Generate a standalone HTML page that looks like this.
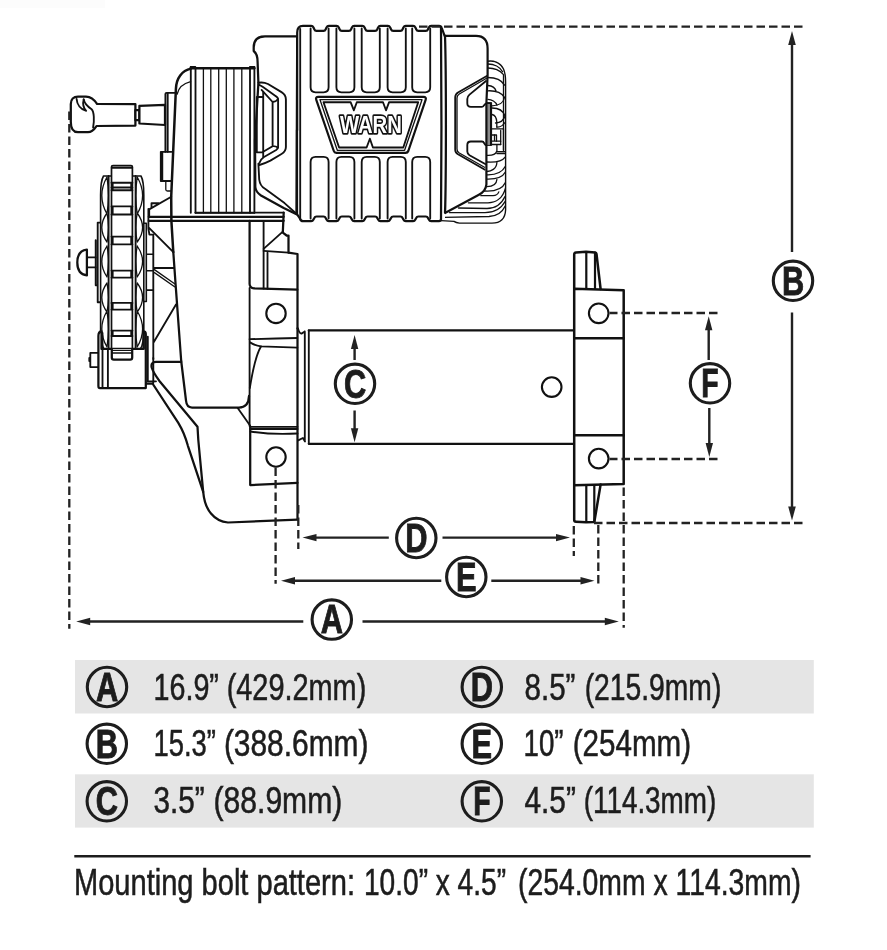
<!DOCTYPE html>
<html>
<head>
<meta charset="utf-8">
<title>Winch dimensions</title>
<style>
html,body{margin:0;padding:0;background:#fff;}
body{width:887px;height:950px;overflow:hidden;font-family:"Liberation Sans",sans-serif;}
svg{display:block;filter:grayscale(1);}
.t{font-family:"Liberation Sans",sans-serif;font-size:36px;fill:#1d1d1f;stroke:#1d1d1f;stroke-width:0.55;}
.b{font-family:"Liberation Sans",sans-serif;font-weight:bold;font-size:40px;fill:#1d1d1f;stroke:#1d1d1f;stroke-width:0.9;text-anchor:middle;}
.o{fill:none;stroke:#111;stroke-width:2.25;stroke-linejoin:round;stroke-linecap:round;}
.m{fill:none;stroke:#111;stroke-width:1.85;stroke-linejoin:round;stroke-linecap:round;}
.n{fill:none;stroke:#111;stroke-width:1.3;stroke-linejoin:round;stroke-linecap:round;}
.w{fill:#fff;stroke:#111;stroke-width:2.25;stroke-linejoin:round;stroke-linecap:round;}
.d{fill:none;stroke:#222;stroke-width:2.3;stroke-dasharray:8.5 4;}
.a{fill:none;stroke:#222;stroke-width:2.4;}
.h{fill:#222;stroke:none;}
.c{fill:none;stroke:#1d1d1f;stroke-width:3.1;}
#rsupport .o{stroke-width:2.5;}#rsupport .m{stroke-width:2.2;}
</style>
</head>
<body>
<svg width="887" height="950" viewBox="0 0 887 950">
<rect x="0" y="0" width="887" height="950" fill="#ffffff"/>
<rect x="0" y="0" width="105" height="8" fill="#fcfcfc"/>

<!-- ===== TABLE ===== -->
<g id="table">
<rect x="75" y="660" width="738.8" height="53.5" fill="#e4e5e6"/>
<rect x="75" y="774.3" width="738.8" height="53.3" fill="#e4e5e6"/>
<rect x="74.3" y="855" width="736.3" height="2.5" fill="#1d1d1f"/>
</g>

<!-- ===== DRAWING ===== -->
<g id="drawing">
<g id="handle">
<!-- knob + shaft -->
<path class="w" d="M97 103.8 C94.5 100 91 96.8 86 96.6 H78 C73.5 96.6 70.8 99.5 70.8 104 V122 C70.8 128 73 132.2 78 132.2 H88 C93 132.2 94.5 129 96.5 126 L135.4 125.6 V104.2 Z"/>
<path class="m" d="M76.6 98.9 C77 104.5 80.5 109.5 86.2 110.8 C83.5 108 82.6 103.5 83.7 99.5"/>
<path class="m" d="M83.7 99.5 C84.5 103.5 87.5 106.5 91.6 109.2 C94.2 111.5 94.4 121 93.1 127.5"/>
<path class="w" d="M135.4 110H139.4V120.2H135.4Z"/>
<path class="w" d="M139.4 105.8 L165 104.8 V125 L139.4 123.5Z"/>
</g>

<g id="gearhousing">
<!-- left plate the handle shaft enters -->
<path class="m" d="M175.5 92.8H166.6Q165.4 92.8 165.4 94V151.8M167.7 93.5V151.8"/>
<!-- small box + stub -->
<path class="m" d="M171.5 151.8H160.8V181H171.5M162.3 152.5V180.5"/>
<path class="n" d="M165.8 181V189.5Q165.8 191 167.5 191H170.6"/>
<!-- body left edge with shoulder -->
<path class="o" style="stroke-width:2.5" d="M191 68.6 C182 70.5 176.2 78 175.9 89 L171.2 196.8 L171.4 221 L173.3 252"/>
<path class="n" d="M190.6 81.6 C183 83.5 178.5 88 177.2 94"/>
<!-- ribbed block -->
<path class="o" style="stroke-width:2.6" d="M190.8 68.3H254.2"/><path class="o" style="stroke-width:1.6" d="M190.6 68V66.8H195.4V68M249.8 68V66.8H254.4V68"/>
<path class="m" d="M190.8 67V212.8M195.5 68V212.8M250 68V212.8M254.4 67V212.8"/>
<path class="n" d="M203.4 68V212.8M210.8 68V212.8M218.7 68V212.8M226.3 68V212.8M233.9 68V212.8M241.8 68V212.8"/>
<path class="m" d="M195.5 212.8H254.4"/>
<!-- bracket below handle -->
<path class="m" d="M171.3 196.8 L149.2 209.4 V215.7M151.5 208V203.2H158.6"/>
</g>

<g id="motor">
<!-- fan / brush cover behind end cap -->
<path class="m" style="stroke-width:1.4" d="M487.6 61.2 C493 60.4 500 62 503.5 69 C505 72.5 505.6 77 505.6 82 V210 Q505 223.1 492 223.1 H459.5 Q456 222.8 454 221.4 L441 220.6"/>
<path class="n" d="M487.9 64 C494 64 500 67 502.6 71.8 M487.9 68 C494 68 500 70.5 503.5 74.6 V150"/>
<path class="n" d="M487.9 77.5 C494 77.5 501 79 504.5 85.1"/>
<path class="n" d="M487.9 85.5 C491 85.8 495 87.5 496 90.8 M487.9 90.8 C494 90.5 501 92 504.5 97.4 C503.5 103 500 105.3 492 105.8"/>
<path class="n" d="M487.9 99.3 C491.5 99.5 496 101.5 496.9 105.2"/>
<path class="n" d="M492 108 C497 108 503 110 505 116 C503.5 121 499 122.8 495.5 123"/>
<path class="n" d="M492 114.5 C494.5 115 496.5 117.5 496.8 122 V127"/>
<path class="n" d="M496.8 127 C500 127.3 503 125.5 505 122.5 M492 128.8 H503.5 M492 135 H496.5 V141.2 M500.7 130.5 V144.5 M503.5 128.8 V151.6"/>
<path class="n" d="M491.7 141.2 H500.7 M491.7 144.5 H500.7 M494.5 135 V141 M496.9 144.5 V151.6 H505.4 M496.9 153.5 H505.4"/>
<path class="n" d="M486.9 155.4 C491 155.6 495.5 155 496.6 151.5"/>
<path class="n" d="M486.9 162 C494 162.5 502 161.5 505.4 156.8"/>
<path class="n" d="M486.9 171.5 C491 171.3 496.5 169 496.9 162.5"/>
<path class="n" d="M487 174.8 C494 175 502 173 505.4 166.3"/>
<path class="n" d="M487 179.1 C495 179.3 502.5 177.5 505.4 172"/>
<path class="n" d="M487 186.7 C491 186.6 496.5 185 496.9 179.5"/>
<path class="n" d="M484.5 191 C493 191.5 502 190 505.4 182.5"/>
<path class="n" d="M480.8 195.7 H493 Q497.5 195.5 498.8 191.9"/>
<path class="n" d="M468.4 202.8 H488 C495 202.8 502.5 199 505.4 188.5"/>
<path class="n" d="M458.5 208 L487 208.5 C494 208.5 501 205 505 196.5"/>
<path class="n" d="M449.5 212.7 H485 C493 212.7 501 209 505.4 201"/>
<path class="n" d="M443.8 217.4 L489 216.5 C496 216.2 502 213 505.2 206"/>
<!-- right end cap -->
<path class="w" style="stroke-width:2.2" d="M444.6 35.8 H476 Q487.6 35.8 487.6 48.5 V75 L486.4 103 V184.3 Q485.8 191 478.9 194.7 L445 213 Z"/>
<!-- left end cap -->
<path class="w" d="M297.2 36.3 H265 Q253.7 36.3 253.7 47.5 V51 Q257.6 54 257.6 62 L258.4 83 L255 140 L255.3 187 Q255.8 192 261 195.5 L283.7 208 L296.5 214.2 Z"/>
<path class="m" d="M258.4 163.7 L259.2 179.5 Q260 186 265 188.8 L284.5 203.1 L297 214.2"/>
<!-- ribbed body -->
<path d="M297 30H445V218H297Z" style="fill:#fff;stroke:none"/>
<path class="o" style="stroke-width:2.2" d="M297.2 130 V32.5 Q297.2 25.9 303 25.9 H311.2 Q312.7 25.9 313.5 27.5 L314.3 29.3 Q314.9 30.8 316.5 30.8 H323.5 Q325.1 30.8 325.7 29.3 L326.5 27.5 Q327.3 25.9 328.8 25.9 H336.5 Q338.0 25.9 338.8 27.5 L339.6 29.3 Q340.2 30.8 341.8 30.8 H348.9 Q350.5 30.8 351.1 29.3 L351.9 27.5 Q352.7 25.9 354.2 25.9 H362.3 Q363.8 25.9 364.6 27.5 L365.4 29.3 Q366.0 30.8 367.6 30.8 H375.1 Q376.7 30.8 377.3 29.3 L378.1 27.5 Q378.9 25.9 380.4 25.9 H387.9 Q389.4 25.9 390.2 27.5 L391.0 29.3 Q391.6 30.8 393.2 30.8 H400.4 Q402.0 30.8 402.6 29.3 L403.4 27.5 Q404.2 25.9 405.7 25.9 H413.1 Q414.6 25.9 415.4 27.5 L416.2 29.3 Q416.8 30.8 418.4 30.8 H425.8 Q427.4 30.8 428.0 29.3 L428.8 27.5 Q429.6 25.9 431.1 25.9 H439.0 Q441.2 25.9 441.8 28 L444.6 35.8"/>
<path class="o" style="stroke-width:2.2" d="M297 214.2 L300.2 219 Q301 221.2 303 221.2 H311.2 Q312.7 221.2 313.5 219.6 L314.3 218.0 Q314.9 216.5 316.5 216.5 H323.5 Q325.1 216.5 325.7 218.0 L326.5 219.6 Q327.3 221.2 328.8 221.2 H336.5 Q338.0 221.2 338.8 219.6 L339.6 218.0 Q340.2 216.5 341.8 216.5 H348.9 Q350.5 216.5 351.1 218.0 L351.9 219.6 Q352.7 221.2 354.2 221.2 H362.3 Q363.8 221.2 364.6 219.6 L365.4 218.0 Q366.0 216.5 367.6 216.5 H375.1 Q376.7 216.5 377.3 218.0 L378.1 219.6 Q378.9 221.2 380.4 221.2 H387.9 Q389.4 221.2 390.2 219.6 L391.0 218.0 Q391.6 216.5 393.2 216.5 H400.4 Q402.0 216.5 402.6 218.0 L403.4 219.6 Q404.2 221.2 405.7 221.2 H413.1 Q414.6 221.2 415.4 219.6 L416.2 218.0 Q416.8 216.5 418.4 216.5 H425.8 Q427.4 216.5 428.0 218.0 L428.8 219.6 Q429.6 221.2 431.1 221.2 H439.0 Q441 221.2 441 219"/>
<path class="o" d="M297 130 V214.2"/>
<path class="m" d="M300.2 29 V219.5"/>
<path class="o" d="M441 27.5 C441.6 60 441.6 180 441 219.5"/>
<path class="o" d="M445 35.8 C446.2 70 446.2 180 445 212.8"/>
<path class="m" d="M310.6 28.5 V87.3 Q310.6 92.3 315.6 92.3 H323.6 Q328.6 92.3 328.6 87.3 V28.5 M310.6 218.5 V162 Q310.6 156.8 315.6 156.8 H323.6 Q328.6 156.8 328.6 162 V218.5 M336.4 28.5 V87.3 Q336.4 92.3 341.4 92.3 H349.4 Q354.4 92.3 354.4 87.3 V28.5 M336.4 218.5 V162 Q336.4 156.8 341.4 156.8 H349.4 Q354.4 156.8 354.4 162 V218.5 M361.7 28.5 V87.3 Q361.7 92.3 366.7 92.3 H374.8 Q379.8 92.3 379.8 87.3 V28.5 M361.7 218.5 V162 Q361.7 156.8 366.7 156.8 H374.8 Q379.8 156.8 379.8 162 V218.5 M387.6 28.5 V87.3 Q387.6 92.3 392.6 92.3 H400.8 Q405.8 92.3 405.8 87.3 V28.5 M387.6 218.5 V162 Q387.6 156.8 392.6 156.8 H400.8 Q405.8 156.8 405.8 162 V218.5 M412.2 28.5 V87.3 Q412.2 92.3 417.2 92.3 H425.2 Q430.2 92.3 430.2 87.3 V28.5 M412.2 218.5 V162 Q412.2 156.8 417.2 156.8 H425.2 Q430.2 156.8 430.2 162 V218.5 "/>
<!-- D ring on left end cap -->
<path class="o" style="stroke-width:1.9" d="M258.3 82.8 C261 82.3 265 82.6 268 84 L281.5 92.1 Q285.9 94.8 285.9 99.5 V147 Q285.9 151.5 281.5 154 L270.4 160.6 Q264 163.8 259.4 165"/>
<path class="m" d="M258.6 84.6 Q261 85.6 263 87 L276.2 96.4 Q278.1 97.6 278.1 99.8 V146.8 Q278.1 148.8 276.2 150 L264 157 Q261 158.8 259.4 163"/>
<path class="m" d="M261.6 89.9 L272.6 102 V146.2 L263.2 151.8 M278.1 99 Q276 101.8 272.6 102 M278.1 147.6 Q275.5 146 272.6 146.2"/>
<path class="m" d="M263.2 92 V157 M256.8 97 H263.2 M256.8 152.3 H263.2 M256.8 97 V152.3"/>
<!-- right bracket -->
<path class="m" d="M486.8 76 L458 92.5 Q455.2 94.2 455.2 97.5 V149.5 Q455.2 152.6 458 154.3 L484.5 169.5"/>
<path class="n" d="M486.6 78.3 L459.3 94 Q457 95.4 457 98 V149 Q457 151.6 459.3 153 L484.5 167.3"/>
<path class="m" d="M486 81 L469.5 94.6 Q467.3 96.5 467.3 99 V103.3 Q467.3 106.8 470.8 106.8 H482 Q483.5 106.8 484 105.3 L485.4 103.8"/>
<path class="m" d="M485.4 144.9 L484 143 Q483.5 141.5 482 141.5 H470.8 Q467.3 141.5 467.3 145 V151.5 Q467.3 153.8 469.5 155.2 L485.2 164"/>
<path d="M487 102.8 H491.6 V145.4 H487Z" style="fill:#8a8a8a;stroke:#111;stroke-width:1"/>
<path d="M490.9 102.6 V145.4 M486.6 103.2 H491.8" style="stroke:#111;stroke-width:1.8;fill:none"/>
<!-- logo -->
<path class="o" style="stroke-width:2.2" d="M318.3 96.9 H423.5 Q426.6 96.9 425.7 99.6 L408.3 151 Q407.6 152.8 405.6 152.8 H336.4 Q334.4 152.8 333.8 151 L316.2 99.6 Q315.3 96.9 318.3 96.9Z"/>
<path class="n" d="M320 99.7 H422 L404.6 150.3 H337.3 Z"/>
<path class="m" d="M323.5 102.2 H350.6 L353.9 110.3 L356.8 102.2 H383 L386 110.3 L389.1 102.2 H418.2 L403.3 147.5 H372.9 L369.9 138.7 L366.6 147.5 H339.1 Z"/>
<text transform="translate(370.9 133.1) scale(0.85 1)" font-family="Liberation Sans, sans-serif" font-weight="bold" font-size="23.8" text-anchor="middle" style="fill:#fff;stroke:#111;stroke-width:3.5;stroke-linejoin:round;paint-order:stroke">WARN</text>
</g>

<g id="gear">
<!-- knob -->
<path class="w" d="M86.9 249.7 C80 250.5 77.3 256 77.3 262.5 C77.3 269 80 274.6 86.9 275.4 Z"/>
<path class="m" d="M86.9 257.4 H95.7 M86.9 267.3 H95.7"/>
<!-- side plates -->
<path class="m" d="M100.8 222.6 H97.7 V302.2 H100.8 M95.7 240.2 V285.3 H97.7"/>
<path class="m" style="stroke-width:1.6" d="M143.8 223.3 H146.3 V301.5 H143.8 M146.3 254.2 H153.3 M146.3 270.8 H153.3 M146.3 290.1 H153.3"/>
<!-- flanges -->
<path class="w" style="stroke-width:1.6" d="M108.6 176 H103.5 Q100.6 181 100.6 195 V330 Q100.6 344 104 348.9 H140.4 Q143.8 344 143.8 330 V195 Q143.8 181 141 176 H135.6 Z"/>
<path class="n" d="M107 177.0 Q96.6 195.5 107 214.0 Q109.8 195.5 107 177.0 M137.2 177.0 Q148 195.5 137.2 214.0 Q134.4 195.5 137.2 177.0 M107 213.0 Q96.6 227.5 107 242.0 Q109.8 227.5 107 213.0 M137.2 213.0 Q148 227.5 137.2 242.0 Q134.4 227.5 137.2 213.0 M107 246.0 Q96.6 261.5 107 277.0 Q109.8 261.5 107 246.0 M137.2 246.0 Q148 261.5 137.2 277.0 Q134.4 261.5 137.2 246.0 M107 283.0 Q96.6 297.5 107 312.0 Q109.8 297.5 107 283.0 M137.2 283.0 Q148 297.5 137.2 312.0 Q134.4 297.5 137.2 283.0 M107 311.0 Q96.6 329.0 107 347.0 Q109.8 329.0 107 311.0 M137.2 311.0 Q148 329.0 137.2 347.0 Q134.4 329.0 137.2 311.0 "/>
<path class="m" d="M108.6 176 V348.9 M135.6 176 V348.9"/>
<!-- center column -->
<path class="w" style="stroke-width:1.7" d="M111.5 167 Q111.5 165.5 113 165.5 H131 Q132.4 165.5 132.4 167 V357.5 Q132.4 359.7 130.4 359.7 H113.5 Q111.5 359.7 111.5 357.5 Z"/>
<path class="o" d="M112 167.6 H132"/>
<path class="m" d="M111.5 182.7 H132.4 M111.5 187.5 H132.4 M111.5 190.2 H132.4 M111.5 206.4 H132.4 M111.5 214.5 H132.4 M111.5 236.6 H132.4 M111.5 244.3 H132.4 M111.5 270.6 H132.4 M111.5 277.6 H132.4 M111.5 302.9 H132.4 M111.5 309.6 H132.4 M111.5 330.6 H132.4 M111.5 336.0 H132.4 M111.5 350.2 H132.4 M111.5 352.9 H132.4"/>
<path style="fill:#111;stroke:none" d="M111.5 182.7 H113.6 V190.2 H111.5Z M130.3 182.7 H132.4 V190.2 H130.3Z M111.5 206.4 H113.6 V214.5 H111.5Z M130.3 206.4 H132.4 V214.5 H130.3Z M111.5 236.6 H113.6 V244.3 H111.5Z M130.3 236.6 H132.4 V244.3 H130.3Z M111.5 270.6 H113.6 V277.6 H111.5Z M130.3 270.6 H132.4 V277.6 H130.3Z M111.5 302.9 H113.6 V309.6 H111.5Z M130.3 302.9 H132.4 V309.6 H130.3Z M111.5 330.6 H113.6 V336.0 H111.5Z M130.3 330.6 H132.4 V336.0 H130.3Z "/>
<!-- lower box -->
<path class="w" d="M98.4 336 Q98.4 331.3 101.5 331.3 V348.9 H143.5 V331.3 Q145.8 331.3 145.8 334 V388.1 H100 Q98.4 388.1 98.4 386 Z"/>
<path class="m" d="M102.5 333 V388 M107.9 349 V388 M147.8 336.7 V381.3"/>
<path class="m" d="M97.7 352.9 H90.3 V367.1 H97.7 M90.3 358 H89.3 V361 H90.3"/>
<path class="w" d="M111.8 349 V357.5 Q111.8 359.7 113.8 359.7 H130.2 Q132.2 359.7 132.2 357.5 V349"/>
<path class="n" d="M111.8 350.4 H132.2 M111.8 353 H132.2"/>
</g>

<g id="body">
<!-- horizontal shelf lines under gear housing -->
<path class="m" d="M195.5 212.6 H283.7"/>
<path class="o" d="M148.8 216.8 H283.7 M148.8 220.8 H283.7"/>
<!-- main case left edge -->
<path class="o" d="M173.3 252 L175.6 284.3 L181.2 361 L186 400.5 Q186.6 407.5 192 407.5 H239 Q248.6 407.5 249 396"/>
<!-- left bracket/web behind gear -->
<path class="m" d="M148.4 209 V228.5 L149.4 234.6 H153.3 V359 M148.8 227.6 L172.6 251.4 M153.4 268 H174 M176 304.5 L153.4 342.8"/><path class="n" d="M154.4 269.6 L174.6 283.8 M154.4 272.6 L174.6 286.8"/>
<path class="o" d="M181.2 361.9 H156 Q150.5 362.2 151.7 367.5 Q153 372 159.2 380.7 L197.5 426.7 L198.3 440 L203.2 491.8 Q204.5 506 211 513.5 Q217.5 521.5 228 522.5 L297.5 519.6"/>
<path class="o" d="M146.5 383.5 H152.5 M152.5 383.5 L178.3 422.8 Q184.5 433 187.9 445.8 L203.2 491.8"/>
<path class="m" d="M153.3 358 V383 M147.8 381.3 H156"/>
<!-- right column of case -->
<path class="o" d="M249.6 220.8 V284 Q249.8 288 254 288.3 L297.3 289.7"/>
<path class="m" d="M249.6 288 V426"/>
<path class="m" d="M263.6 220.8 V288.5 M267.5 252.7 V288.8"/>
<!-- stepped bit under motor -->
<path class="o" d="M283.7 212.6 L282.8 232.6 L286.6 235.5 H288.5 V252.7 L297.5 254 V328.4"/>
<path class="m" d="M263.6 248.9 L282.8 231.6 M263.6 250.9 L288.5 252.7"/>
<!-- upper mounting plate -->
<path class="m" d="M249.6 339.2 Q275 338.4 297.3 338"/>
<path class="m" d="M250 342.4 Q255 345.5 261 346.4 Q280 347 297.3 347.6"/>
<circle class="o" style="stroke-width:2.1" cx="276" cy="313.4" r="9.7"/>
<!-- hex support -->
<path class="m" d="M261 346.4 Q255 356 249.8 388"/>
<path class="m" d="M237.7 408 L250.2 425.8"/>
<!-- lower mounting plate -->
<path class="o" d="M250.2 426.8 V485.1 L297.5 482.8"/>
<path class="m" d="M250.2 426.8 H297.5 M250.2 429 H297.5 M250.5 431.5 Q272 435 297.5 433.5"/>
<circle class="o" style="stroke-width:2.1" cx="276" cy="457" r="9.7"/>
<path class="o" d="M297.5 328.4 V519.6"/>
<!-- drum left flange -->
<path class="m" d="M298 328.6 Q299.5 334 301.5 333.6 L304.8 331.5 M304.8 331.5 V441 M298.2 440.3 L302.9 438 L305 441.5"/>
</g>

<g id="drum">
<path class="o" style="stroke-width:2.2" d="M308.8 330.4 H574 M308.8 443.8 H574"/>
<path class="m" d="M308.8 330.4 V443.8"/>
<circle class="o" style="stroke-width:2.1" cx="551.7" cy="387.1" r="9.8"/>
</g>
<g id="rsupport">
<!-- top tab -->
<path class="o" d="M574.2 289 V254.5 Q574.2 252.6 576 252.5 L586 251.8 L595 252.4 Q596.3 252.6 596.5 254 L600.6 289"/>
<path class="m" d="M586.3 252 V288.8 M595 252.6 V288.8"/>
<!-- plates -->
<path class="o" d="M574.2 288.8 L623.7 290.2 V484 L574.2 485.2 Z"/>
<path class="o" d="M574.2 338.2 H623.7 M574.2 435.3 H623.7"/>
<circle class="o" style="stroke-width:2.1" cx="598.7" cy="313.3" r="9.8"/>
<circle class="o" style="stroke-width:2.1" cx="598.7" cy="458.6" r="9.8"/>
<!-- bottom tab -->
<path class="o" d="M574.2 485 V520 Q574.2 521.6 576 521.7 L586 522.3 L594.3 522 L600.6 484.6"/>
<path class="m" d="M586.3 485 V522 M594.3 485 V522"/>
</g>
<!--NEXT-->
</g>

<!-- ===== DIMENSIONS ===== -->
<g id="dims">
<!-- dashed extension lines -->
<path class="d" d="M69.3 111.5V628.8"/>
<path class="d" d="M802.5 26.6H417"/>
<path class="d" d="M802.5 523H594"/>
<path class="d" d="M717.5 313H609.5"/>
<path class="d" d="M717.5 459H609.5"/>
<path class="d" d="M275.6 467.5V583.8"/>
<path class="d" d="M298.3 505V549"/>
<path class="d" d="M573.8 526V556"/>
<path class="d" d="M598.3 525V585.3"/>
<path class="d" d="M623.7 487.5V627.8"/>
<!-- A -->
<path class="a" d="M88 621.5H303.3M362.5 621.5H607"/>
<polygon class="h" points="76.2,621.5 90.2,617.7 90.2,625.3"/>
<polygon class="h" points="618.8,621.5 604.8,617.7 604.8,625.3"/>
<!-- B -->
<path class="a" d="M792 43V252M792 312.5V508"/>
<polygon class="h" points="792,31 788.2,45 795.8,45"/>
<polygon class="h" points="792,520.5 788.2,506.5 795.8,506.5"/>
<!-- C -->
<path class="a" d="M354.6 347V360M354.6 410.5V430"/>
<polygon class="h" points="354.6,335 350.9,349 358.3,349"/>
<polygon class="h" points="354.6,442.3 350.9,428.3 358.3,428.3"/>
<!-- D -->
<path class="a" d="M314 537.6H388.8M442.5 537.6H558"/>
<polygon class="h" points="302.5,537.6 316.5,533.9 316.5,541.3"/>
<polygon class="h" points="570,537.6 556,533.9 556,541.3"/>
<!-- E -->
<path class="a" d="M293 580.8H441.3M491.3 580.8H582"/>
<polygon class="h" points="281,580.8 295,577.1 295,584.5"/>
<polygon class="h" points="594.5,580.8 580.5,577.1 580.5,584.5"/>
<!-- F -->
<path class="a" d="M708.7 328V360M709.3 408V445"/>
<polygon class="h" points="708.7,316.3 705,330.3 712.4,330.3"/>
<polygon class="h" points="709.3,457 705.6,443 713,443"/>
</g>

<!-- ===== TEXT ===== -->
<g id="labels">
<!-- circles in drawing -->
<circle class="c" cx="331.8" cy="619.6" r="19.7"/>
<circle class="c" cx="793" cy="280.8" r="19.7"/>
<circle class="c" cx="355" cy="383.8" r="19.7"/>
<circle class="c" cx="416.3" cy="538" r="19.7"/>
<circle class="c" cx="466.3" cy="577" r="19.7"/>
<circle class="c" cx="710" cy="383.3" r="19.7"/>
<g class="b">
<text transform="translate(331.8 633.35) scale(0.77 1)">A</text>
<text transform="translate(793 294.55) scale(0.77 1)">B</text>
<text transform="translate(355 397.55) scale(0.77 1)">C</text>
<text transform="translate(416.3 551.75) scale(0.77 1)">D</text>
<text transform="translate(466.3 590.75) scale(0.77 1)">E</text>
<text transform="translate(710 397.05) scale(0.71 1)">F</text>
</g>
<!-- circles in table -->
<circle class="c" cx="107" cy="687" r="19.7"/>
<circle class="c" cx="106.8" cy="743.8" r="19.7"/>
<circle class="c" cx="106.8" cy="801.3" r="19.7"/>
<circle class="c" cx="481.8" cy="687" r="19.7"/>
<circle class="c" cx="481.8" cy="743.8" r="19.7"/>
<circle class="c" cx="481.8" cy="801.3" r="19.7"/>
<g class="b">
<text transform="translate(107 700.75) scale(0.77 1)">A</text>
<text transform="translate(106.8 757.55) scale(0.77 1)">B</text>
<text transform="translate(106.8 815.05) scale(0.77 1)">C</text>
<text transform="translate(481.8 700.75) scale(0.77 1)">D</text>
<text transform="translate(481.8 757.55) scale(0.77 1)">E</text>
<text transform="translate(481.8 815.05) scale(0.71 1)">F</text>
</g>
<g class="t">
<text id="a1" x="153.50" y="699.6" textLength="65.40" lengthAdjust="spacingAndGlyphs">16.9”</text>
<text id="a2" x="226.70" y="699.6" textLength="139.61" lengthAdjust="spacingAndGlyphs">(429.2mm)</text>
<text id="b1" x="153.50" y="756.3" textLength="62.40" lengthAdjust="spacingAndGlyphs">15.3”</text>
<text id="b2" x="223.89" y="756.3" textLength="144.63" lengthAdjust="spacingAndGlyphs">(388.6mm)</text>
<text id="c1" x="153.52" y="813.2" textLength="51.17" lengthAdjust="spacingAndGlyphs">3.5”</text>
<text id="c2" x="213.50" y="813.2" textLength="128.81" lengthAdjust="spacingAndGlyphs">(88.9mm)</text>
<text id="d1" x="524.52" y="699.6" textLength="50.96" lengthAdjust="spacingAndGlyphs">8.5”</text>
<text id="d2" x="584.69" y="699.6" textLength="136.61" lengthAdjust="spacingAndGlyphs">(215.9mm)</text>
<text id="e1" x="523.52" y="756.3" textLength="39.97" lengthAdjust="spacingAndGlyphs">10”</text>
<text id="e2" x="572.70" y="756.3" textLength="118.41" lengthAdjust="spacingAndGlyphs">(254mm)</text>
<text id="f1" x="524.51" y="813.2" textLength="51.37" lengthAdjust="spacingAndGlyphs">4.5”</text>
<text id="f2" x="583.69" y="813.2" textLength="132.62" lengthAdjust="spacingAndGlyphs">(114.3mm)</text>
<text id="s1" x="74" y="894.5" textLength="281" lengthAdjust="spacingAndGlyphs">Mounting bolt pattern:</text>
<text id="s2" x="364" y="894.5" textLength="142" lengthAdjust="spacingAndGlyphs">10.0” x 4.5”</text>
<text id="s3" x="518" y="894.5" textLength="283" lengthAdjust="spacingAndGlyphs">(254.0mm x 114.3mm)</text>
</g>
</g>
</svg>
</body>
</html>
